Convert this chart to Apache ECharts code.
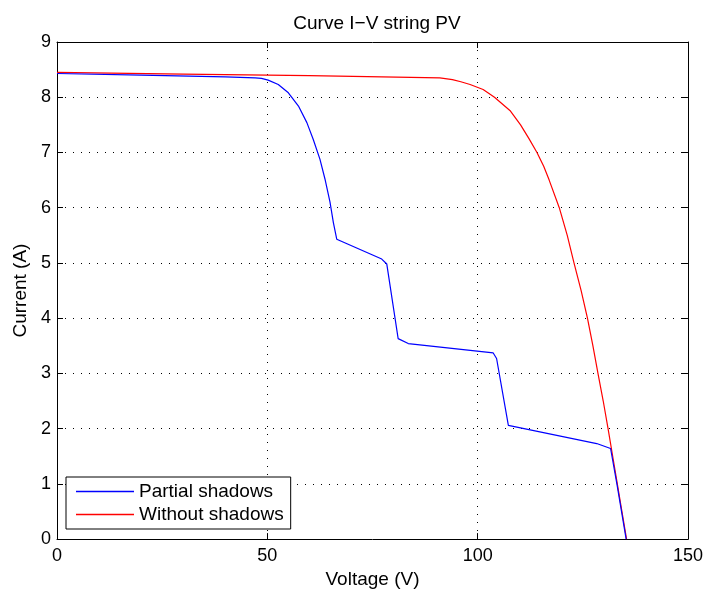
<!DOCTYPE html>
<html>
<head>
<meta charset="utf-8">
<script src="https://cdn.jsdelivr.net/npm/echarts@6/dist/echarts.min.js"></script>
<style>html,body{margin:0;padding:0;background:#fff;}#c{width:706px;height:594px;}</style>
</head>
<body>
<div id="c"></div>
<script>
var titleText = 'Curve I\u2212V string PV';
var xName = 'Voltage (V)';
var yName = 'Current (A)';
var seriesNames = ['Partial shadows', 'Without shadows'];

var blueV = [0, 20, 40, 47.1, 48.6, 50.2, 52.6, 55.0, 57.4, 59.4, 60.9, 62.5, 63.7, 64.9, 65.7, 66.5, 77.2, 78.4, 81.1, 83.5, 103.7, 104.5, 107.3, 128.3, 131.6, 133.1, 135.3];
var blueI = [8.43, 8.40, 8.37, 8.35, 8.34, 8.31, 8.23, 8.08, 7.84, 7.54, 7.24, 6.88, 6.52, 6.10, 5.73, 5.43, 5.07, 4.98, 3.63, 3.54, 3.37, 3.27, 2.06, 1.73, 1.64, 1.00, 0];

var redV = [0, 30, 60, 91, 94, 96, 98.2, 101.3, 104.0, 107.8, 110.2, 112.2, 114.1, 115.7, 117.0, 119.4, 121.3, 122.9, 124.6, 126.1, 127.4, 128.6, 129.85, 131.0, 132.1, 133.2, 134.3, 135.4];
var redI = [8.45, 8.42, 8.39, 8.35, 8.32, 8.28, 8.23, 8.14, 8.00, 7.75, 7.50, 7.25, 7.00, 6.75, 6.50, 6.00, 5.50, 5.00, 4.50, 4.00, 3.50, 3.00, 2.50, 2.00, 1.50, 1.00, 0.50, 0];

function pairs(xs, ys) { return xs.map(function (x, i) { return [x, ys[i]]; }); }

var FONT = 'Liberation Sans';
var chart = echarts.init(document.getElementById('c'), null, {renderer: 'canvas'});

var gridLine = {show: true, lineStyle: {color: '#000', width: 1, type: [1, 7]}};
var axisLine = {show: true, onZero: false, lineStyle: {color: '#000', width: 1}};
var tick = {show: true, inside: true, length: 6, lineStyle: {color: '#000'}};

chart.setOption({
  backgroundColor: '#fff',
  animation: false,
  title: {
    text: titleText,
    left: 372, top: 9, textAlign: 'center',
    textStyle: {fontFamily: FONT, fontSize: 19, fontWeight: 'normal', color: '#000'}
  },
  grid: {left: 57, right: 18, top: 42, bottom: 53, containLabel: false},
  legend: {
    orient: 'vertical', left: 66, top: 477,
    data: seriesNames,
    icon: 'rect',
    itemWidth: 58, itemHeight: 1.3, itemGap: 4,
    padding: [5, 7, 5, 10],
    borderColor: '#000', borderWidth: 1, borderRadius: 0,
    backgroundColor: '#fff',
    textStyle: {fontFamily: FONT, fontSize: 19, color: '#000'}
  },
  xAxis: [{
    type: 'value', min: 0, max: 150, interval: 50, position: 'bottom',
    name: xName, nameLocation: 'middle', nameGap: 30,
    nameTextStyle: {fontFamily: FONT, fontSize: 19, color: '#000'},
    axisLine: axisLine, axisTick: tick, splitLine: gridLine,
    axisLabel: {fontFamily: FONT, fontSize: 18, color: '#000', margin: 8}
  }, {
    type: 'value', min: 0, max: 150, interval: 50, position: 'top',
    axisLine: axisLine, axisTick: tick, splitLine: {show: false},
    axisLabel: {show: false}
  }],
  yAxis: [{
    type: 'value', min: 0, max: 9, interval: 1, position: 'left',
    name: yName, nameLocation: 'middle', nameGap: 27,
    nameTextStyle: {fontFamily: FONT, fontSize: 19, color: '#000'},
    axisLine: axisLine, axisTick: tick, splitLine: gridLine,
    axisLabel: {fontFamily: FONT, fontSize: 18, color: '#000', margin: 6}
  }, {
    type: 'value', min: 0, max: 9, interval: 1, position: 'right',
    axisLine: axisLine, axisTick: tick, splitLine: {show: false},
    axisLabel: {show: false}
  }],
  series: [{
    name: seriesNames[0], type: 'line', data: pairs(blueV, blueI),
    showSymbol: false, symbol: 'none', smooth: false, z: 3,
    lineStyle: {color: '#0000ff', width: 1.2}, itemStyle: {color: '#0000ff'}
  }, {
    name: seriesNames[1], type: 'line', data: pairs(redV, redI),
    showSymbol: false, symbol: 'none', smooth: false, z: 2,
    lineStyle: {color: '#ff0000', width: 1.2}, itemStyle: {color: '#ff0000'}
  }]
});
</script>
</body>
</html>
